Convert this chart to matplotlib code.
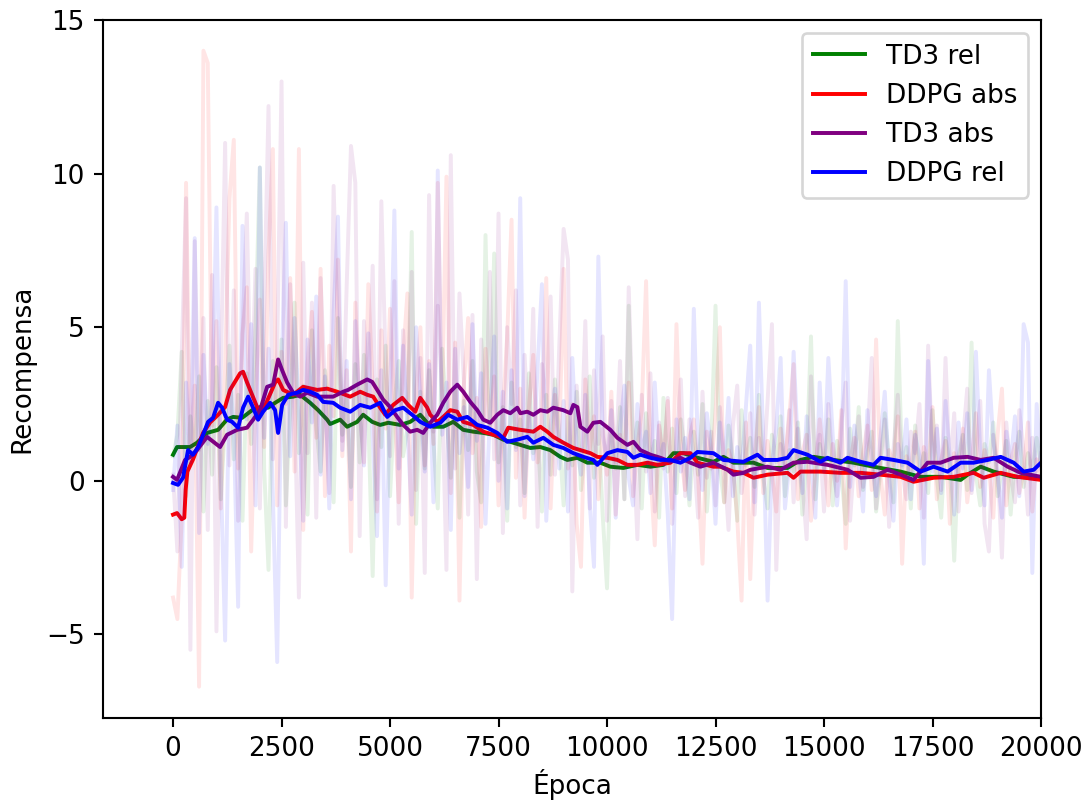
import matplotlib
matplotlib.use("Agg")
import matplotlib.pyplot as plt
import numpy as np

# --- data -------------------------------------------------------------
# raw reward, one value every 100 epochs (0 .. 20000)
epocas = np.arange(0, 20001, 100)

td3_rel_raw = [
    0.8, 1.5, 4.2, -0.5, 2.1, 0.9, 3.4, -1.0, 2.6, 0.2,
    3.7, -0.6, 1.9, 4.4, 0.7, 2.8, -1.3, 3.5, 1.2, 5.0,
    10.2, 0.4, -2.9, 3.9, 1.6, 4.6, -0.8, 2.3, 5.8, 0.9,
    3.1, -1.1, 4.9, 1.8, 0.3, 3.6, 2.4, -0.7, 5.3, 1.5,
    2.7, -0.2, 3.8, 0.6, 4.1, 2.0, -3.1, 3.3, 1.1, 4.4,
    -0.5, 2.5, 3.9, 0.8, 1.7, 8.1, -1.4, 2.9, 0.4, 3.6,
    1.3, -0.9, 4.3, 2.2, 0.1, 3.0, -1.2, 2.6, 1.0, 3.9,
    0.3, -0.7, 8.0, 1.8, 7.4, 0.6, 2.4, -1.3, 3.2, 1.1,
    2.0, -0.4, 3.5, 0.9, 1.6, -1.0, 2.8, 0.2, 3.3, 1.4,
    -0.8, 2.1, 0.5, 2.9, -0.3, 1.2, 3.4, 0.1, 1.8, -1.1,
    -3.5, 1.5, 0.4, 2.4, -0.6, 5.7, 0.8, 1.9, -0.9, 2.2,
    0.6, 1.3, -1.2, 2.7, 0.3, 1.7, -0.4, 2.0, 0.9, -0.8,
    1.6, 0.2, 2.5, -1.0, 1.1, 5.7, 0.4, -0.7, 1.8, 0.7,
    -1.3, 2.3, 0.5, 1.4, -0.2, 2.8, 0.1, -0.9, 1.5, 0.6,
    2.1, -0.5, 1.0, 0.3, 1.9, -1.1, 0.8, 4.7, -0.6, 1.2,
    0.4, 2.0, -0.8, 1.3, 0.2, -1.4, 1.7, 0.5, 2.4, -0.3,
    0.9, 1.6, -1.0, 0.3, 2.2, 0.6, -0.7, 5.2, 0.4, 1.1,
    -0.9, 1.8, 0.2, 0.9, -0.4, 2.3, 0.1, -1.2, 1.4, 0.5,
    -2.6, 0.8, 1.5, -0.3, 4.5, 0.2, -0.8, 1.2, 0.6, 1.9,
    -0.5, 0.4, 1.3, -1.1, 0.7, 1.6, -0.2, 0.9, 0.3, 1.4,
    0.5,
]
ddpg_abs_raw = [
    -3.8, -4.5, -1.2, 9.7, 0.6, 3.1, -6.7, 14.0, 13.6, 1.8,
    5.2, -0.9, 3.7, 9.2, 11.1, 0.4, 4.8, 6.3, -2.3, 2.7,
    5.9, 1.1, 7.4, 10.8, -0.8, 4.2, 2.5, 6.6, 0.3, 10.8,
    -1.6, 3.8, 5.5, 1.4, 6.9, -0.5, 4.4, 2.1, 7.2, 0.8,
    3.6, -2.3, 5.8, 2.3, 0.6, 6.4, 3.0, -1.0, 4.9, 1.7,
    5.6, 2.4, -0.7, 4.0, 6.1, -3.8, 2.8, 5.0, 0.5, 3.9,
    1.2, 9.7, 2.6, 9.9, -0.4, 4.5, -3.9, 3.1, 5.3, 0.9,
    2.7, -1.5, 4.3, 1.6, 3.4, -0.8, 2.2, 4.7, 8.5, 0.1,
    3.0, -1.2, 2.4, 4.1, 0.6, 1.9, 6.6, -0.9, 2.8, 1.3,
    6.9, 0.4, 2.5, -1.4, -2.8, 3.3, 1.0, 2.1, -0.6, 1.7,
    0.2, 2.9, -1.1, 1.5, 0.7, 3.2, -0.5, 1.1, 2.3, 6.5,
    0.3, -2.1, 1.8, 0.6, 2.6, -0.9, 5.1, 0.9, -0.3, 1.4,
    2.0, 0.1, -2.7, 1.6, 0.4, 2.2, 5.0, -0.7, 1.0, 0.5,
    -1.2, -3.9, 1.9, -3.2, 0.8, 2.4, -0.4, 1.3, 0.2, -1.0,
    1.7, 0.5, 2.1, 3.8, -0.6, 0.9, 1.5, -1.3, 0.3, 2.0,
    0.7, -0.8, 1.2, 0.0, 2.3, -2.2, 0.6, 1.4, -0.5, 0.9,
    1.8, -0.3, 4.6, 0.2, -1.1, 1.0, 0.5, 2.1, -2.7, 0.8,
    0.3, 1.6, -0.9, 1.1, 0.4, 2.4, -0.6, 0.7, 1.3, -1.4,
    0.9, 0.2, 1.7, -0.7, 0.5, 2.2, -0.2, 1.0, 0.4, -1.2,
    1.5, 3.0, -0.8, 0.6, 1.2, -0.4, 0.3, 1.9, -1.0, 0.7,
    0.1,
]
td3_abs_raw = [
    0.2, -2.3, 4.1, 9.2, -5.5, 7.8, 1.0, 5.3, -1.6, 6.7,
    -4.9, 3.4, 11.0, 0.5, 6.2, -1.3, 4.8, 8.7, 2.1, 6.9,
    -0.9, 5.6, 12.2, 0.7, 4.3, 13.0, -1.5, 6.4, 2.6, -3.8,
    7.1, 0.9, 5.8, -1.2, 6.6, 3.0, -0.4, 9.6, 4.5, 1.3,
    6.3, 10.9, 9.7, -1.8, 5.2, 2.4, 7.0, -0.6, 9.1, 3.7,
    0.8, 6.5, -1.4, 4.9, 2.2, 6.8, -0.3, 4.0, -3.0, 9.3,
    1.6, 5.7, 2.9, -2.9, 10.6, 0.4, 6.1, 3.3, -1.1, 5.4,
    -3.2, 4.6, 2.0, 6.8, 0.7, 8.7, -1.7, 5.0, 2.5, 6.2,
    -0.8, 4.1, 1.4, 5.6, -1.5, 3.8, 2.3, 6.0, 0.2, 4.4,
    8.2, 7.2, -3.6, 3.1, 0.9, 5.2, -0.9, 3.6, 1.2, 4.7,
    -1.3, 2.6, 0.6, 3.9, -0.6, 6.3, 1.5, -1.9, 2.8, 0.3,
    3.5, -1.0, 1.9, 0.4, 2.7, -1.4, 1.1, 3.3, -0.5, 2.0,
    0.8, -1.2, 2.9, 0.1, 1.6, -0.8, 2.4, 0.6, -1.6, 1.8,
    3.1, -0.4, 0.9, 2.2, -1.1, 1.4, 0.3, 2.6, 5.1, -2.9,
    1.2, 0.5, 2.3, -0.7, 1.7, 0.0, -1.9, 3.4, 0.6, 1.5,
    -1.0, 2.5, 0.4, -0.5, 1.9, 3.2, -1.3, 0.8, 2.1, -0.2,
    1.3, 4.0, -0.9, 0.7, 2.0, -1.5, 1.0, 2.8, 0.3, -0.6,
    1.6, 0.9, 2.5, -1.2, 4.4, 0.6, 1.8, -0.3, 4.0, 0.2,
    2.2, -1.0, 1.3, 3.0, -0.4, 0.8, 2.6, -1.4, -2.3, 1.5,
    0.5, -2.5, 1.9, 0.2, -0.7, 2.3, 0.9, -1.1, 1.4, 0.3,
    0.9,
]
ddpg_rel_raw = [
    -0.3, 1.8, -2.8, 3.2, 0.6, 7.9, -1.7, 4.1, 1.2, 2.5,
    8.9, 0.3, -5.2, 3.8, 1.6, -4.1, 8.3, 2.0, 5.1, -0.8,
    10.2, 1.4, 4.3, -0.5, -5.9, 3.7, 8.4, 0.8, 5.3, 2.2,
    -1.3, 4.6, 1.9, 6.0, 0.2, 3.4, -0.9, 5.5, 8.6, 1.0,
    3.9, -0.6, 5.2, 2.3, 0.5, 4.8, 1.4, -1.8, 3.6, -3.4,
    2.7, 8.8, 0.4, 4.4, 1.7, -1.1, 5.0, 2.6, 0.3, 3.8,
    -0.7, 10.1, 1.5, 3.2, -1.6, 4.3, 0.9, 2.4, -0.2, 5.1,
    1.3, 3.5, -1.4, 2.1, 4.7, 0.0, 2.9, -0.9, 3.6, 1.0,
    9.2, -0.5, 2.2, 0.7, 3.7, 6.4, -1.3, 1.8, 3.0, 0.4,
    2.6, -1.0, 4.0, 1.1, 0.2, 2.8, -0.7, -2.8, 7.3, 1.5,
    0.6, 2.3, -1.2, 1.7, 3.1, 0.1, -0.8, 2.5, 0.9, 1.6,
    -0.4, 3.2, 0.5, 1.2, -1.1, -4.5, 2.0, 0.3, 1.4, -0.6,
    5.6, 0.8, -0.3, 2.2, 1.0, -1.4, 1.9, 0.4, 2.7, -0.5,
    1.1, 0.2, 2.4, 4.4, -0.7, 5.8, 1.3, -3.9, 0.6, 1.7,
    4.0, -0.9, 0.5, 4.2, 1.0, -0.4, 2.1, 0.7, -1.2, 3.2,
    0.3, 4.0, 1.5, -0.8, 0.9, 6.5, -0.2, 1.8, 0.4, -1.0,
    2.3, 0.6, -0.5, 1.4, 2.9, 0.1, -1.3, 1.2, 0.5, 2.0,
    -0.6, 1.5, 0.8, -2.7, 3.9, 0.3, 1.7, -0.4, 2.6, 0.7,
    -1.1, 1.9, 0.4, 2.2, -0.3, 4.2, 0.9, -0.8, 3.6, 1.3,
    0.2, -1.2, 1.6, 0.6, 2.1, -0.5, 5.1, 4.5, -3.0, 2.5,
    0.4,
]

# smoothed curves (epoch, reward)
td3_rel_x = [0, 92, 392, 553, 784, 1038, 1245, 1384, 1591, 1822, 2006, 2191, 2352, 2537,
             2767, 2929, 3159, 3344, 3551, 3620, 3851, 4012, 4243, 4381, 4589, 4773, 4958,
             5235, 5465, 5696, 5857, 5996, 6226, 6457, 6687, 6918, 7149, 7379, 7610, 7771,
             8002, 8233, 8463, 8694, 8924, 9086, 9316, 9547, 9847, 10077, 10377, 10700,
             11000, 11299, 11530, 11761, 12083, 12452, 12683, 12914, 13375, 13698, 14159,
             14459, 14758, 15219, 15681, 16142, 16765, 17226, 17687, 18148, 18310, 18609,
             18909, 19370, 20000]
td3_rel_y = [0.85, 1.1, 1.1, 1.24, 1.56, 1.66, 2.0, 2.08, 2.05, 2.3, 2.4, 2.38, 2.54, 2.7,
             2.74, 2.8, 2.54, 2.3, 1.99, 1.85, 1.99, 1.76, 1.92, 2.15, 1.92, 1.82, 1.89,
             1.82, 1.92, 2.15, 1.89, 1.76, 1.76, 1.92, 1.66, 1.6, 1.56, 1.5, 1.34, 1.27,
             1.17, 1.07, 1.1, 1.0, 0.78, 0.68, 0.75, 0.59, 0.59, 0.46, 0.42, 0.52,
             0.46, 0.52, 0.9, 0.9, 0.75, 0.62, 0.78, 0.59, 0.59, 0.42, 0.42,
             0.68, 0.78, 0.68, 0.59, 0.46, 0.3, 0.13, 0.13, 0.03, 0.2, 0.46,
             0.3, 0.13, 0.1]

ddpg_abs_x = [0, 92, 200, 260, 290, 330, 461, 692, 853, 1038, 1199, 1314, 1545, 1614, 1706,
              1822, 1937, 2006, 2168, 2352, 2421, 2537, 2767, 2998, 3321, 3551, 3782, 4082,
              4312, 4474, 4612, 4773, 4889, 5073, 5281, 5419, 5581, 5696, 5857, 5926, 6088,
              6226, 6388, 6549, 6687, 6918, 7149, 7379, 7610, 7725, 8002, 8302, 8463, 8624,
              8763, 8993, 9224, 9386, 9616, 9777, 10008, 10239, 10469, 10700, 10930, 11161,
              11461, 11691, 11922, 12083, 12452, 12614, 12914, 13144, 13375, 13698, 14159,
              14297, 14459, 14920, 15381, 15842, 16303, 16765, 17064, 17526, 17987, 18448,
              18679, 19071, 19463, 20000]
ddpg_abs_y = [-1.1, -1.05, -1.25, -1.2, -0.3, 0.3, 0.7, 1.56, 1.9, 2.15, 2.4, 2.96, 3.5, 3.55, 3.2,
              2.8, 2.4, 2.15, 2.6, 3.2, 3.3, 2.96, 2.8, 3.06, 2.96, 3.0, 2.9, 2.74,
              2.9, 2.8, 2.74, 2.38, 2.15, 2.47, 2.7, 2.47, 2.25, 2.7, 2.38, 2.15, 1.92,
              2.08, 2.3, 2.25, 1.92, 1.82, 1.6, 1.5, 1.4, 1.73, 1.66, 1.6, 1.76, 1.6,
              1.43, 1.24, 1.07, 1.0, 0.9, 0.78, 0.75, 0.68, 0.52, 0.52, 0.59, 0.52,
              0.59, 0.9, 0.9, 0.59, 0.46, 0.46, 0.3, 0.26, 0.1, 0.2, 0.26,
              0.1, 0.3, 0.3, 0.26, 0.26, 0.2, 0.13, -0.03, 0.1, 0.13, 0.26,
              0.1, 0.26, 0.13, 0.03]

td3_abs_x = [0, 92, 277, 392, 553, 784, 1084, 1245, 1476, 1706, 1845, 2006, 2168, 2306, 2421,
             2514, 2629, 2767, 2929, 3090, 3321, 3690, 3920, 4036, 4243, 4474, 4589, 4704,
             4843, 5004, 5165, 5304, 5465, 5627, 5765, 5926, 6088, 6226, 6388, 6549, 6687,
             6849, 7010, 7149, 7310, 7471, 7610, 7771, 7933, 8002, 8163, 8302, 8463, 8624,
             8763, 8993, 9155, 9224, 9316, 9386, 9547, 9685, 9847, 10077, 10239, 10469,
             10608, 10769, 11000, 11230, 11461, 11691, 11922, 12152, 12452, 12775, 12914,
             13144, 13306, 13698, 13997, 14297, 14620, 15081, 15542, 15842, 16142, 16465,
             16765, 17064, 17387, 17687, 17987, 18310, 18609, 18909, 19232, 19532, 20000]
td3_abs_y = [0.13, 0.03, 0.68, 0.78, 1.0, 1.43, 1.1, 1.5, 1.66, 1.73, 1.99, 2.3, 3.06, 3.13, 3.95,
             3.6, 3.2, 2.87, 2.74, 2.87, 2.74, 2.74, 2.9, 2.96, 3.13, 3.3, 3.22, 2.96,
             2.64, 2.4, 2.08, 1.82, 1.6, 1.66, 1.56, 1.89, 2.15, 2.54, 2.9, 3.13, 2.9,
             2.57, 2.3, 1.99, 1.89, 2.15, 2.3, 2.2, 2.38, 2.2, 2.25, 2.15, 2.3, 2.25,
             2.38, 2.3, 2.2, 2.47, 2.4, 1.76, 1.6, 1.89, 1.92, 1.66, 1.4, 1.17,
             1.27, 1.0, 0.85, 0.75, 0.62, 0.75, 0.59, 0.46, 0.59, 0.36, 0.2,
             0.26, 0.36, 0.46, 0.36, 0.59, 0.62, 0.52, 0.36, 0.1, 0.13, 0.36,
             0.2, 0.03, 0.59, 0.59, 0.75, 0.78, 0.68, 0.75, 0.46, 0.26, 0.13]

ddpg_rel_x = [0, 115, 230, 346, 461, 576, 692, 807, 922, 1038, 1130, 1245, 1360, 1499, 1614,
              1730, 1845, 1960, 2075, 2237, 2352, 2421, 2514, 2652, 2859, 2998, 3159, 3321,
              3459, 3690, 3851, 4082, 4312, 4543, 4773, 4935, 5119, 5304, 5511, 5696, 5926,
              6157, 6341, 6549, 6780, 7010, 7241, 7471, 7702, 7933, 8163, 8302, 8532, 8763,
              8993, 9224, 9455, 9685, 9777, 10008, 10239, 10469, 10608, 10769, 11000, 11230,
              11461, 11691, 11922, 12083, 12452, 12683, 13144, 13467, 13605, 13928, 14159,
              14297, 14620, 14920, 15081, 15381, 15542, 15842, 16142, 16303, 16603, 16926,
              17226, 17526, 17848, 18148, 18448, 18771, 19071, 19370, 19601, 19832, 20000]
ddpg_rel_y = [-0.07, -0.13, 0.1, 1.0, 0.85, 1.1, 1.5, 1.92, 2.05, 2.54, 2.38, 1.99, 1.92, 1.73, 2.38,
              2.74, 2.38, 1.99, 2.25, 2.54, 2.3, 1.56, 2.47, 2.8, 2.87, 2.96, 2.9, 2.8,
              2.57, 2.54, 2.38, 2.25, 2.47, 2.38, 2.54, 2.08, 2.3, 2.38, 2.15, 1.92, 1.76,
              1.89, 2.15, 1.99, 2.08, 1.82, 1.73, 1.56, 1.27, 1.34, 1.43, 1.24, 1.4, 1.17,
              1.07, 0.9, 0.78, 0.68, 0.52, 0.9, 1.0, 0.94, 0.75, 0.85, 0.75, 0.68,
              0.68, 0.59, 0.75, 0.94, 0.9, 0.68, 0.62, 0.85, 0.68, 0.68, 0.75,
              1.0, 0.85, 0.62, 0.75, 0.59, 0.75, 0.62, 0.52, 0.75, 0.68, 0.59,
              0.3, 0.46, 0.3, 0.59, 0.59, 0.68, 0.78, 0.59, 0.3, 0.36, 0.59]

series = [
    ("TD3 rel", "green", td3_rel_raw, td3_rel_x, td3_rel_y),
    ("DDPG abs", "red", ddpg_abs_raw, ddpg_abs_x, ddpg_abs_y),
    ("TD3 abs", "purple", td3_abs_raw, td3_abs_x, td3_abs_y),
    ("DDPG rel", "blue", ddpg_rel_raw, ddpg_rel_x, ddpg_rel_y),
]

# --- plot -------------------------------------------------------------
fig = plt.figure(figsize=(1086 / 189, 801 / 189), dpi=189)
ax = fig.add_axes([103 / 1086, 83 / 801, 938 / 1086, 698 / 801])

for label, color, raw, xs, ys in series:
    ax.plot(epocas, raw, color=color, alpha=0.1)
    ax.plot(xs, ys, color=color, label=label)

ax.set_xlim(-1614, 20000)
ax.set_ylim(-7.72, 15)
ax.set_xticks([0, 2500, 5000, 7500, 10000, 12500, 15000, 17500, 20000])
ax.set_yticks([-5, 0, 5, 10, 15])
ax.set_xlabel("Época", labelpad=2.5)
ax.set_ylabel("Recompensa")
ax.legend(loc="upper right")

fig.savefig("out.png", dpi=189)
plt.close(fig)
